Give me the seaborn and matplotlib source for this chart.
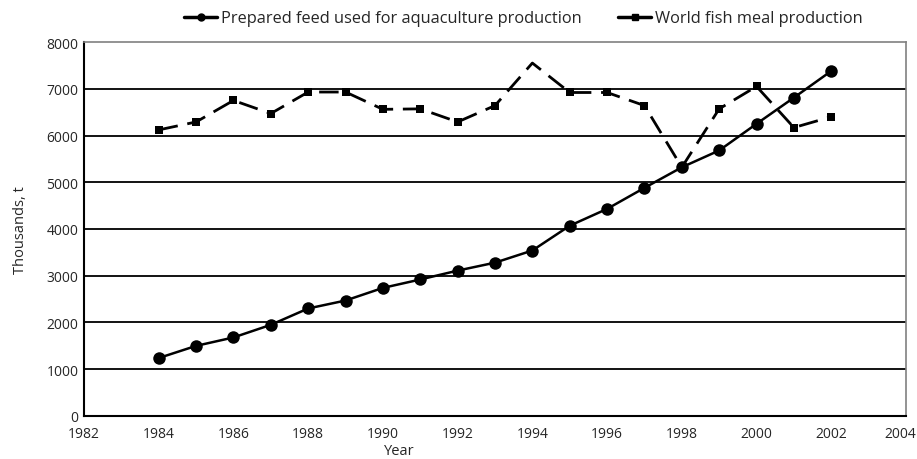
import numpy as np
import pandas as pd
import matplotlib
matplotlib.use("Agg")
import matplotlib.pyplot as plt
import matplotlib.transforms as mtransforms
from matplotlib.lines import Line2D
import seaborn as sns

# values (thousands of tonnes)
years = [1984, 1985, 1986, 1987, 1988, 1989, 1990, 1991, 1992, 1993,
         1994, 1995, 1996, 1997, 1998, 1999, 2000, 2001, 2002]
feed = [1240, 1500, 1680, 1950, 2300, 2470, 2740, 2920, 3110, 3280,
        3540, 4070, 4430, 4880, 5320, 5680, 6250, 6810, 7380]
fish_meal = [6120, 6290, 6750, 6470, 6930, 6930, 6560, 6570, 6290, 6640,
             7550, 6920, 6920, 6640, 5320, 6570, 7050, 6170, 6400]

feed_label = "Prepared feed used for aquaculture production"
fish_label = "World fish meal production"

data = pd.DataFrame({"Year": years, "feed": feed, "fish": fish_meal})

sns.set_style("white")
plt.rcParams["font.family"] = ["Open Sans", "DejaVu Sans"]

fig = plt.figure(figsize=(9.17, 4.6), dpi=100)
ax = fig.add_axes([0.0916, 0.0935, 0.8964, 0.813])

# horizontal grid lines
for v in range(1000, 8000, 1000):
    ax.axhline(v, color="black", linewidth=1.3, zorder=1)

sns.lineplot(data=data, x="Year", y="fish", ax=ax, color="black",
             linewidth=2.0, linestyle=(0, (7, 3.5)), marker="s",
             markersize=6, markeredgewidth=0,
             markevery=[i for i in range(len(years)) if years[i] not in (1994, 1998)],
             zorder=3)
sns.lineplot(data=data, x="Year", y="feed", ax=ax, color="black",
             linewidth=1.8, marker="o", markersize=9, markeredgewidth=0,
             zorder=4)

ax.set_xlim(1982, 2004)
ax.set_ylim(0, 8000)
ax.set_xticks(range(1982, 2005, 2))
ax.set_yticks(range(0, 8001, 1000))
ax.tick_params(axis="both", direction="out", length=4, width=1,
               labelsize=10, color="black")
ax.tick_params(axis="x", pad=3)
ax.tick_params(axis="y", pad=0)

# last x tick label sits at the figure edge, nudge it in a little
last = ax.get_xticklabels()[-1]
last.set_transform(last.get_transform() +
                   mtransforms.ScaledTranslation(-4 / 72, 0, fig.dpi_scale_trans))

for side in ["left", "bottom"]:
    ax.spines[side].set_color("black")
    ax.spines[side].set_linewidth(1.5)
for side in ["top", "right"]:
    ax.spines[side].set_color("#808080")
    ax.spines[side].set_linewidth(1.2)

ax.set_xlabel("Year", fontsize=10.5)
ax.set_ylabel("Thousands, t", fontsize=10.5)
ax.xaxis.set_label_coords(0.384, -0.073)
ax.yaxis.set_label_coords(-0.068, 0.5)

handles = [
    Line2D([], [], color="black", linewidth=2.5, marker="o", markersize=5),
    Line2D([], [], color="black", linewidth=2.5, marker="s", markersize=5),
]
fig.legend(handles, [feed_label, fish_label], loc="center",
           bbox_to_anchor=(0.571, 0.958), ncol=2, frameon=False,
           fontsize=11.8, handlelength=2.0, handletextpad=0.25,
           columnspacing=2.2)

fig.savefig("out.png", dpi=100)
